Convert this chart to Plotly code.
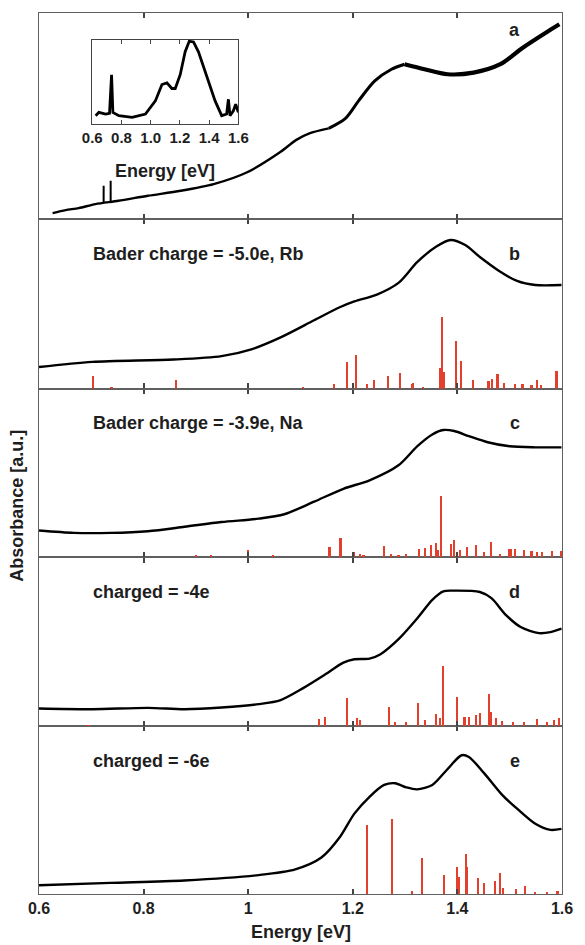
import plotly.graph_objects as go

# ---------------- Panel a: experimental spectrum ----------------
exp_energy = [0.626, 0.651, 0.676, 0.708, 0.752, 0.808, 0.871, 0.934, 0.997, 1.060, 1.092,
              1.117, 1.154, 1.186, 1.211, 1.242, 1.274, 1.299, 1.337, 1.381, 1.431, 1.482,
              1.525, 1.569, 1.595]
exp_absorb = [5.7, 8.7, 10.7, 14.7, 18.0, 23.0, 28.0, 34.7, 46.3, 66.3, 79.0,
              85.5, 90.5, 100.5, 118.0, 138.0, 149.7, 154.7, 149.7, 144.7, 146.3, 154.7,
              171.3, 186.3, 194.7]
# narrow sharp features in the experimental spectrum
spike_energy = [0.7236, 0.737]
spike_base = [16.5, 17.5]
spike_peak = [33.0, 38.0]

# inset (difference spectrum)
inset_energy = [0.623, 0.645, 0.691, 0.718, 0.732, 0.741, 0.782, 0.873, 0.964, 1.032, 1.077,
                1.111, 1.145, 1.168, 1.202, 1.236, 1.264, 1.293, 1.327, 1.373, 1.441, 1.486,
                1.520, 1.532, 1.543, 1.566, 1.582, 1.600]
inset_signal = [25, 35, 30, 32, 150, 35, 25, 20, 30, 70, 120,
                125, 108, 108, 150, 220, 252, 250, 220, 160, 70, 25,
                30, 75, 25, 40, 60, 35]

# ---------------- Panel b ----------------
b_energy = [0.600, 0.702, 0.857, 0.949, 1.006, 1.062, 1.126, 1.175, 1.203, 1.246, 1.288,
            1.323, 1.359, 1.387, 1.415, 1.443, 1.479, 1.514, 1.549, 1.599]
b_absorb = [63, 78, 85, 95, 115, 150, 200, 238, 255, 275, 310,
            370, 415, 435, 420, 385, 345, 315, 303, 303]
b_stick_e = [0.703, 0.739, 0.862, 1.105, 1.165, 1.189, 1.207, 1.227, 1.241, 1.267, 1.290,
             1.313, 1.316, 1.334, 1.368, 1.371, 1.374, 1.398, 1.408, 1.431, 1.460, 1.467,
             1.477, 1.489, 1.511, 1.525, 1.542, 1.553, 1.560, 1.590]
b_stick_h = [38, 3, 25, 4, 15, 78, 100, 13, 25, 38, 45,
             15, 18, 5, 62, 210, 50, 140, 80, 27, 22, 30,
             42, 18, 13, 13, 10, 27, 10, 52]

# ---------------- Panel c ----------------
c_energy = [0.600, 0.667, 0.737, 0.808, 0.878, 0.949, 1.020, 1.069, 1.126, 1.182, 1.232,
            1.288, 1.323, 1.352, 1.373, 1.394, 1.422, 1.458, 1.500, 1.549, 1.599]
c_absorb = [79, 72, 72, 77, 90, 104, 114, 127, 164, 202, 227,
            272, 327, 362, 375, 372, 357, 339, 327, 324, 324]
c_stick_e = [0.667, 0.801, 0.900, 0.930, 1.000, 1.048, 1.156, 1.177, 1.203, 1.214, 1.221,
             1.260, 1.274, 1.288, 1.302, 1.327, 1.338, 1.350, 1.359, 1.364, 1.369, 1.388,
             1.394, 1.406, 1.419, 1.436, 1.451, 1.465, 1.482, 1.500, 1.503, 1.511, 1.528,
             1.542, 1.553, 1.563, 1.581, 1.599]
c_stick_h = [2, 7, 9, 9, 22, 9, 32, 57, 17, 12, 7,
             34, 12, 9, 12, 27, 29, 39, 45, 22, 182, 42,
             52, 22, 32, 37, 17, 47, 12, 25, 25, 25, 22,
             19, 17, 17, 19, 20]

# ---------------- Panel d ----------------
d_energy = [0.600, 0.702, 0.808, 0.878, 0.949, 1.020, 1.062, 1.105, 1.147, 1.182, 1.203,
            1.232, 1.253, 1.288, 1.323, 1.352, 1.373, 1.394, 1.443, 1.465, 1.493, 1.521,
            1.556, 1.578, 1.599]
d_absorb = [52, 50, 54, 50, 55, 65, 77, 112, 152, 187, 197,
            199, 212, 257, 317, 372, 397, 399, 395, 377, 327, 292,
            274, 277, 287]
d_stick_e = [0.695, 0.801, 1.136, 1.147, 1.189, 1.209, 1.214, 1.270, 1.281, 1.302, 1.325,
             1.338, 1.359, 1.367, 1.373, 1.400, 1.414, 1.422, 1.436, 1.443, 1.461, 1.465,
             1.475, 1.486, 1.507, 1.528, 1.553, 1.571, 1.585, 1.595]
d_stick_h = [2, 4, 20, 25, 82, 22, 17, 55, 12, 10, 67,
             17, 34, 22, 175, 85, 27, 27, 32, 37, 95, 42,
             22, 14, 10, 12, 20, 12, 17, 22]

# ---------------- Panel e ----------------
e_energy = [0.600, 0.737, 0.878, 1.020, 1.090, 1.140, 1.175, 1.203, 1.232, 1.260, 1.281,
            1.302, 1.323, 1.352, 1.380, 1.408, 1.422, 1.451, 1.486, 1.514, 1.549, 1.578, 1.599]
e_absorb = [26, 33, 40, 56, 73, 108, 168, 238, 288, 323, 328,
            316, 310, 323, 368, 411, 406, 358, 293, 253, 208, 190, 193]
e_stick_e = [1.227, 1.276, 1.313, 1.333, 1.375, 1.400, 1.403, 1.417, 1.419, 1.440, 1.451,
             1.472, 1.482, 1.487, 1.512, 1.530, 1.549, 1.571, 1.592]
e_stick_h = [203, 221, 8, 106, 56, 78, 50, 118, 80, 48, 31,
             38, 61, 18, 13, 23, 5, 5, 8]

panel_letters = ["a", "b", "c", "d", "e"]
panel_texts = ["", "Bader charge = -5.0e, Rb", "Bader charge = -3.9e, Na",
               "charged = -4e", "charged = -6e"]
x_tick_vals = [0.6, 0.8, 1.0, 1.2, 1.4, 1.6]
x_tick_text = ["0.6", "0.8", "1", "1.2", "1.4", "1.6"]
inset_tick_text = ["0.6", "0.8", "1.0", "1.2", "1.4", "1.6"]

FONT = "Liberation Sans, Arial, Helvetica, sans-serif"
TXT = "#1e1e1e"
RED = "#e2402c"
AX = "#606060"

W, H = 585, 945
ML, MR, MT, MB = 39, 16, 12, 51
plot_h = H - MT - MB
plot_w = W - ML - MR


def ydom(top_px, bot_px):
    return [(H - MB - bot_px) / plot_h, (H - MB - top_px) / plot_h]


def xdom(left_px, right_px):
    return [(left_px - ML) / plot_w, (right_px - ML) / plot_w]


# panel pixel boundaries (top, bottom)
bounds = {"a": (12, 218), "b": (218, 388), "c": (388, 557), "d": (557, 726), "e": (726, 894)}
axis_id = {"e": "", "d": "2", "c": "3", "b": "4", "a": "5"}

fig = go.Figure()


def add_line(x, y, aid, width, shape="spline"):
    line = dict(color="black", width=width, shape=shape)
    if shape == "spline":
        line["smoothing"] = 0.8
    fig.add_trace(go.Scatter(x=x, y=y, mode="lines", xaxis="x" + aid, yaxis="y" + aid,
                             line=line, showlegend=False, hoverinfo="skip"))


def add_sticks(x, h, aid):
    fig.add_trace(go.Bar(x=x, y=h, xaxis="x" + aid, yaxis="y" + aid, width=0.0032,
                         marker=dict(color=RED, line=dict(width=0)),
                         showlegend=False, hoverinfo="skip"))


# panel a: segments of growing noise thickness
seg_low = [(e, v) for e, v in zip(exp_energy, exp_absorb) if e <= 1.16]
seg_mid = [(e, v) for e, v in zip(exp_energy, exp_absorb) if 1.15 <= e <= 1.31]
seg_high = [(e, v) for e, v in zip(exp_energy, exp_absorb) if e >= 1.29]
for seg, w in [(seg_low, 2.4), (seg_mid, 3.0), (seg_high, 4.2)]:
    add_line([s[0] for s in seg], [s[1] for s in seg], "5", w)
sx, sy = [], []
for e, b0, p0 in zip(spike_energy, spike_base, spike_peak):
    sx += [e, e, None]
    sy += [b0, p0, None]
fig.add_trace(go.Scatter(x=sx, y=sy, mode="lines", xaxis="x5", yaxis="y5",
                         line=dict(color="black", width=2), showlegend=False, hoverinfo="skip"))

for aid, xe, ya in [("4", b_energy, b_absorb), ("3", c_energy, c_absorb),
                    ("2", d_energy, d_absorb), ("", e_energy, e_absorb)]:
    add_line(xe, ya, aid, 2.4)
for aid, se, sh in [("4", b_stick_e, b_stick_h), ("3", c_stick_e, c_stick_h),
                    ("2", d_stick_e, d_stick_h), ("", e_stick_e, e_stick_h)]:
    add_sticks(se, sh, aid)

# inset
fig.add_trace(go.Scatter(x=inset_energy, y=inset_signal, mode="lines", xaxis="x6", yaxis="y6",
                         line=dict(color="black", width=2.8), showlegend=False, hoverinfo="skip"))

layout = dict(width=W, height=H, margin=dict(l=ML, r=MR, t=MT, b=MB),
              paper_bgcolor="white", plot_bgcolor="white", bargap=0, barmode="overlay",
              font=dict(family=FONT, color=TXT, size=14))

for p in panel_letters:
    aid = axis_id[p]
    top, bot = bounds[p]
    xa = dict(range=[0.6, 1.6], domain=[0, 1], anchor="y" + aid, showgrid=False, zeroline=False,
              showline=True, linecolor=AX, linewidth=1.3, mirror="ticks",
              ticks="inside", ticklen=5, tickwidth=1.6, tickcolor="#444",
              tickvals=x_tick_vals, ticktext=x_tick_text,
              showticklabels=(p == "e"),
              tickfont=dict(family=FONT, size=16, color=TXT, weight="bold"))
    if aid != "":
        xa["matches"] = "x"
    rng = [0, 206] if p == "a" else [0, 497]
    ya = dict(range=rng, domain=ydom(top, bot), anchor="x" + aid, showgrid=False, zeroline=False,
              showline=True, linecolor=AX, linewidth=1.3, mirror=True, ticks="",
              showticklabels=False)
    layout["xaxis" + aid] = xa
    layout["yaxis" + aid] = ya

# inset axes: box px x 93..241, y 39..123
layout["xaxis6"] = dict(range=[0.6, 1.6], domain=xdom(93, 241),
                        anchor="y6", showgrid=False, zeroline=False, showline=True, linecolor="#444",
                        linewidth=1.3, mirror="ticks", ticks="inside", ticklen=4, tickwidth=1.3,
                        tickcolor="#444", tickvals=x_tick_vals, ticktext=inset_tick_text,
                        tickfont=dict(family=FONT, size=15, color=TXT, weight="bold"))
layout["yaxis6"] = dict(range=[0, 256], domain=ydom(39, 123), anchor="x6", showgrid=False,
                        zeroline=False, showline=True, linecolor="#444", linewidth=1.3,
                        mirror=True, ticks="", showticklabels=False)

ann = []
for p, txt in zip(panel_letters, panel_texts):
    aid = axis_id[p]
    ydomref = "y" + aid + " domain"
    yl = 0.917 if p == "a" else 0.795
    ann.append(dict(text=p, x=1.51, y=yl, xref="x" + aid, yref=ydomref, showarrow=False,
                    xanchor="center", yanchor="middle",
                    font=dict(family=FONT, size=18, color=TXT, weight="bold")))
    if txt:
        ann.append(dict(text=txt, x=0.70, y=0.795, xref="x" + aid, yref=ydomref, showarrow=False,
                        xanchor="left", yanchor="middle",
                        font=dict(family=FONT, size=18, color=TXT, weight="bold")))

ann.append(dict(text="Energy [eV]", x=(305 - ML) / plot_w, y=(H - MB - 932) / plot_h,
                xref="paper", yref="paper", showarrow=False, xanchor="center", yanchor="middle",
                font=dict(family=FONT, size=18, color=TXT, weight="bold")))
ann.append(dict(text="Absorbance [a.u.]", x=(17 - ML) / plot_w, y=(H - MB - 505) / plot_h,
                xref="paper", yref="paper", showarrow=False, xanchor="center", yanchor="middle",
                textangle=-90, font=dict(family=FONT, size=18, color=TXT, weight="bold")))
ann.append(dict(text="Energy [eV]", x=(167 - ML) / plot_w, y=(H - MB - 170) / plot_h,
                xref="paper", yref="paper", showarrow=False, xanchor="center", yanchor="middle",
                font=dict(family=FONT, size=18, color=TXT, weight="bold")))
layout["annotations"] = ann

fig.update_layout(**layout)
fig.write_html("out.html", config={"displayModeBar": False},
               post_script="document.body.style.margin='0';document.body.style.overflow='hidden';")
